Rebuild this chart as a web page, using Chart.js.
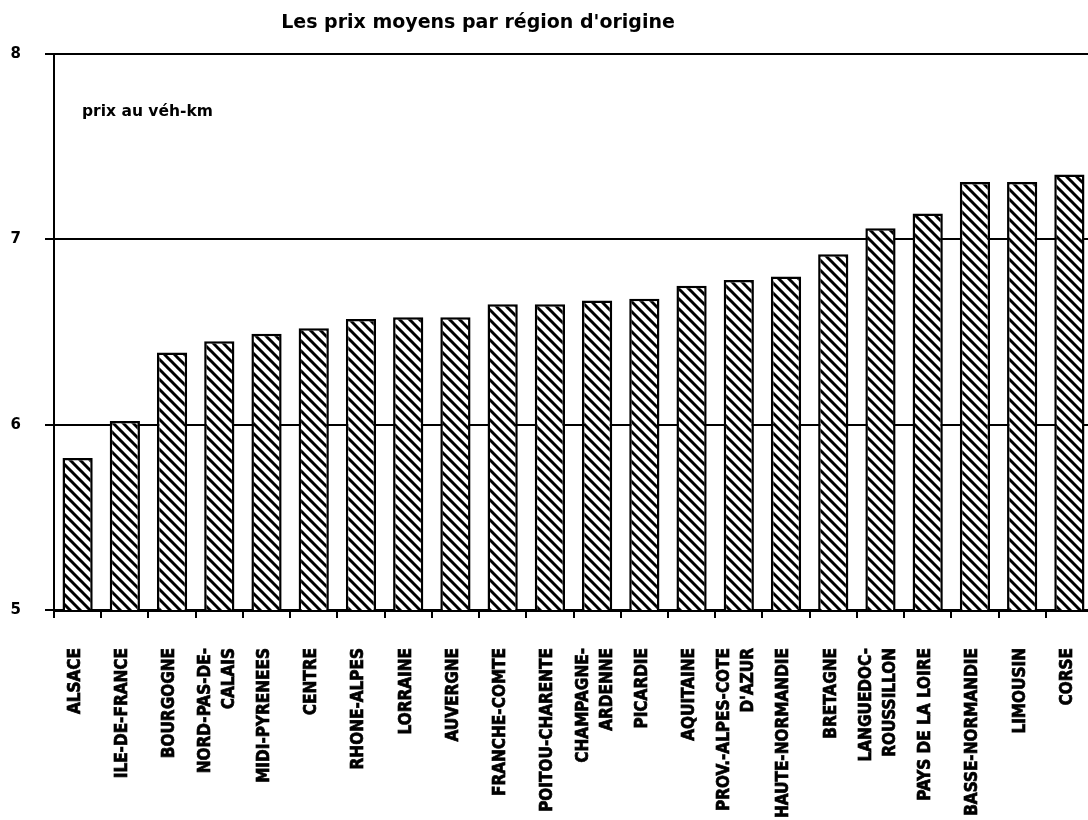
<!DOCTYPE html>
<html lang="fr">
<head>
<meta charset="utf-8">
<title>Les prix moyens par région d'origine</title>
<script src="https://cdn.jsdelivr.net/npm/chart.js@4.4.1/dist/chart.umd.min.js"></script>
<style>
    html, body { margin: 0; padding: 0; background: #fff; overflow: hidden; }
    canvas { display: block; }
</style>
</head>
<body>
<canvas id="graphique" width="1096" height="820"></canvas>
<script>
var titre = "Les prix moyens par région d'origine";
var unite = 'prix au véh-km';

var regions = [
    'ALSACE', 'ILE-DE-FRANCE', 'BOURGOGNE', ['NORD-PAS-DE-', 'CALAIS'], 'MIDI-PYRENEES',
    'CENTRE', 'RHONE-ALPES', 'LORRAINE', 'AUVERGNE', 'FRANCHE-COMTE',
    'POITOU-CHARENTE', ['CHAMPAGNE-', 'ARDENNE'], 'PICARDIE', 'AQUITAINE', ['PROV.-ALPES-COTE', "D'AZUR"],
    'HAUTE-NORMANDIE', 'BRETAGNE', ['LANGUEDOC-', 'ROUSSILLON'], 'PAYS DE LA LOIRE', 'BASSE-NORMANDIE',
    'LIMOUSIN', 'CORSE'
];

var prix = [
    5.82, 6.02, 6.39, 6.45, 6.49,
    6.52, 6.57, 6.58, 6.58, 6.65,
    6.65, 6.67, 6.68, 6.75, 6.78,
    6.80, 6.92, 7.06, 7.14, 7.31,
    7.31, 7.35
];

var yMin = 5;
var yMax = 8;
var yPas = 1;

var policeEtiquettes = 'bold 17px "Liberation Sans Narrow", "DejaVu Sans Condensed", sans-serif';

// hachures "\\\" des barres
function hachures() {
    var c = document.createElement('canvas');
    var s = 10;
    c.width = s;
    c.height = s;
    var ctx = c.getContext('2d');
    ctx.fillStyle = '#fff';
    ctx.fillRect(0, 0, s, s);
    ctx.strokeStyle = '#000';
    ctx.lineWidth = 3;
    for (var k = -1; k <= 1; k++) {
        ctx.beginPath();
        ctx.moveTo(-1, k * s - 1);
        ctx.lineTo(s + 1, s + k * s + 1);
        ctx.stroke();
    }
    return ctx.createPattern(c, 'repeat');
}

// titre, unité et noms des régions (verticaux, lignes centrées sur la catégorie)
var textes = {
    id: 'textes',
    afterDraw: function (chart) {
        var ctx = chart.ctx;
        var area = chart.chartArea;
        var sx = chart.scales.x;
        ctx.save();
        ctx.fillStyle = '#000';
        ctx.strokeStyle = '#000';
        ctx.font = 'bold 19px "DejaVu Sans", sans-serif';
        ctx.textAlign = 'center';
        ctx.textBaseline = 'alphabetic';
        ctx.fillText(titre, 478, 28);
        ctx.font = 'bold 15.5px "DejaVu Sans", sans-serif';
        ctx.textAlign = 'left';
        ctx.textBaseline = 'middle';
        ctx.fillText(unite, area.left + 28, area.top + 58);

        ctx.font = policeEtiquettes;
        ctx.lineWidth = 0.7;
        for (var i = 0; i < regions.length; i++) {
            var lignes = Array.isArray(regions[i]) ? regions[i] : [regions[i]];
            ctx.save();
            ctx.translate(sx.getPixelForTick(i) - 2, sx.top + 38);
            ctx.rotate(-Math.PI / 2);
            ctx.textAlign = 'right';
            ctx.textBaseline = 'middle';
            for (var j = 0; j < lignes.length; j++) {
                var dy = (j - (lignes.length - 1) / 2) * 24;
                ctx.fillText(lignes[j], 0, dy);
                ctx.strokeText(lignes[j], 0, dy);
            }
            ctx.restore();
        }
        ctx.restore();
    }
};

var ctx = document.getElementById('graphique').getContext('2d');

var myChart = new Chart(ctx, {
    type: 'bar',
    data: {
        labels: regions,
        datasets: [{
            data: prix,
            backgroundColor: hachures(),
            borderColor: '#000',
            borderWidth: 2.5,
            barPercentage: 0.64,
            categoryPercentage: 1
        }]
    },
    options: {
        responsive: false,
        animation: false,
        layout: { padding: { top: 54, right: 3, bottom: 0, left: 0 } },
        plugins: {
            legend: { display: false },
            title: { display: false },
            tooltip: { enabled: false }
        },
        scales: {
            x: {
                offset: true,
                afterFit: function (s) {
                    s.height = 210;
                    s.paddingLeft = 0;
                    s.paddingRight = 0;
                },
                grid: {
                    drawOnChartArea: false,
                    drawTicks: true,
                    tickLength: 8,
                    color: '#000',
                    lineWidth: 2
                },
                border: { display: true, color: '#000', width: 3 },
                ticks: {
                    display: false,
                    autoSkip: false
                }
            },
            y: {
                min: yMin,
                max: yMax,
                afterFit: function (s) { s.width = 54; },
                grid: {
                    color: '#000',
                    lineWidth: 2,
                    tickLength: 9
                },
                border: { display: true, color: '#000', width: 2 },
                ticks: {
                    stepSize: yPas,
                    padding: 24,
                    color: '#000',
                    font: { family: '"DejaVu Sans", sans-serif', size: 15, weight: 'bold' }
                }
            }
        }
    },
    plugins: [textes]
});
</script>
</body>
</html>
